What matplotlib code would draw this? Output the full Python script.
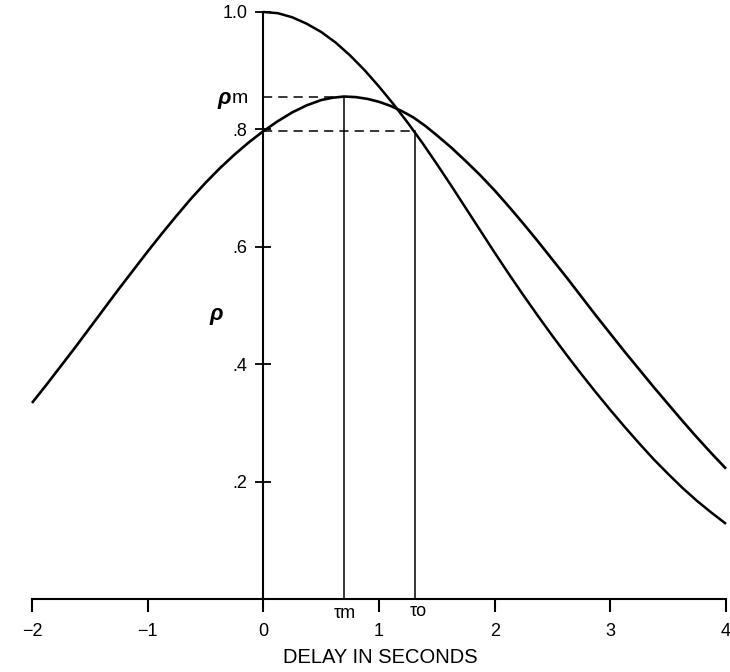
import matplotlib
matplotlib.use('Agg')
import matplotlib.pyplot as plt

# autocorrelation curve (starts at 1.0 at zero delay)
x_auto = [0, 0.125, 0.25, 0.375, 0.5, 0.625, 0.75, 0.875, 1.0, 1.125, 1.25, 1.375, 1.5, 1.625,
          1.75, 1.875, 2.0, 2.125, 2.25, 2.375, 2.5, 2.625, 2.75, 2.875, 3.0, 3.125, 3.25, 3.375,
          3.5, 3.625, 3.75, 3.875, 4.0]
rho_auto = [1.0, 0.998, 0.991, 0.980, 0.966, 0.948, 0.926, 0.901, 0.873, 0.843, 0.811, 0.777,
            0.741, 0.704, 0.666, 0.628, 0.590, 0.553, 0.517, 0.482, 0.448, 0.415, 0.383, 0.352,
            0.322, 0.293, 0.265, 0.238, 0.213, 0.189, 0.167, 0.147, 0.128]

# cross-correlation curve (peak rho_m at tau_m)
x_cross = [-2.0, -1.875, -1.75, -1.625, -1.5, -1.375, -1.25, -1.125, -1.0, -0.875, -0.75, -0.625,
           -0.5, -0.375, -0.25, -0.125, 0, 0.125, 0.25, 0.375, 0.5, 0.6, 0.7, 0.8, 0.9, 1.0, 1.1,
           1.2, 1.3, 1.4, 1.5, 1.625, 1.75, 1.875, 2.0, 2.125, 2.25, 2.375, 2.5, 2.625, 2.75,
           2.875, 3.0, 3.125, 3.25, 3.375, 3.5, 3.625, 3.75, 3.875, 4.0]
rho_cross = [0.334, 0.365, 0.397, 0.429, 0.462, 0.495, 0.528, 0.560, 0.592, 0.623, 0.653, 0.682,
             0.709, 0.734, 0.757, 0.778, 0.797, 0.814, 0.829, 0.841, 0.850, 0.854, 0.856, 0.855,
             0.852, 0.847, 0.840, 0.831, 0.820, 0.806, 0.790, 0.769, 0.746, 0.722, 0.696, 0.668,
             0.639, 0.609, 0.578, 0.547, 0.515, 0.483, 0.452, 0.421, 0.391, 0.361, 0.332, 0.303,
             0.275, 0.248, 0.222]

tau_m, rho_m = 0.70, 0.856
tau_o, rho_o = 1.31, 0.797

xticks = [-2, -1, 0, 1, 2, 3, 4]
xlabels = ['\u22122', '\u22121', '0', '1', '2', '3', '4']
yticks = [0.2, 0.4, 0.6, 0.8, 1.0]
ylabels = ['.2', '.4', '.6', '.8', '1.0']

plt.rcParams['font.family'] = ['Liberation Sans', 'DejaVu Sans']

fig = plt.figure(figsize=(7.30, 6.72), dpi=100)
ax = fig.add_axes([32 / 730, 73 / 672, 694 / 730, 587 / 672])

ax.plot(x_auto, rho_auto, color='black', lw=1.8, clip_on=False, solid_capstyle='butt',
        solid_joinstyle='round')
ax.plot(x_cross, rho_cross, color='black', lw=1.9, clip_on=False, solid_capstyle='butt',
        solid_joinstyle='round')

# construction lines
ax.plot([0, tau_m], [rho_m, rho_m], color='black', lw=1.1, dashes=(6, 4))
ax.plot([0, tau_o], [rho_o, rho_o], color='black', lw=1.1, dashes=(6, 4))
ax.plot([tau_m, tau_m], [0, rho_m], color='black', lw=1.1)
ax.plot([tau_o, tau_o], [0, rho_o], color='black', lw=1.1)

ax.set_xlim(-2, 4)
ax.set_ylim(0, 1.0)

for s in ['top', 'right']:
    ax.spines[s].set_visible(False)
ax.spines['left'].set_position(('data', 0))
ax.spines['left'].set_bounds(0, 1.0)
ax.spines['left'].set_linewidth(1.5)
ax.spines['bottom'].set_linewidth(1.5)

ax.set_xticks(xticks)
ax.set_xticklabels(xlabels)
ax.set_yticks(yticks)
ax.set_yticklabels(ylabels)
ax.tick_params(axis='x', direction='out', length=9.5, width=1.5, pad=8, labelsize=13)
ax.tick_params(axis='y', direction='inout', length=11, width=1.3, pad=6, labelsize=13)

# rho_m label next to the dashed line
ax.text(-0.40, 0.852, '\u03c1', fontsize=16, fontweight='bold', style='italic',
        ha='left', va='center')
ax.text(-0.27, 0.852, 'm', fontsize=14, ha='left', va='center')
# axis symbol
ax.text(-0.41, 0.484, '\u03c1', fontsize=16, fontweight='bold', style='italic',
        ha='center', va='center')

ax.text(tau_m, -0.024, '\u03c4m', fontsize=13, ha='center', va='center', clip_on=False)
ax.text(tau_o + 0.03, -0.022, '\u03c4o', fontsize=13, ha='center', va='center', clip_on=False)

ax.text(1.01, -0.1, 'DELAY IN SECONDS', fontsize=14.5, ha='center', va='center')

fig.savefig('out.png', dpi=100)
